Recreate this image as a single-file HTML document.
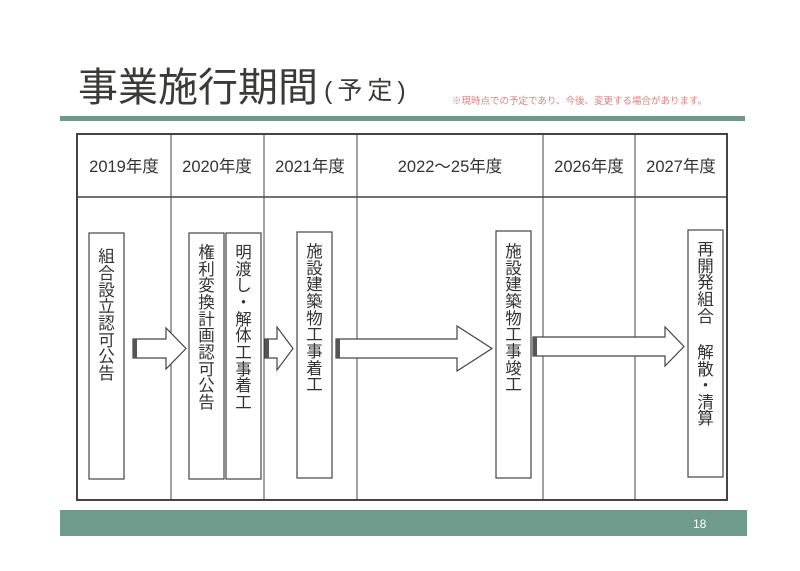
<!DOCTYPE html>
<html><head><meta charset="utf-8"><style>
html,body{margin:0;padding:0;background:#fff}
svg text{font-family:"Liberation Sans","Noto Sans CJK JP",sans-serif;fill:#333}
</style></head><body>
<svg width="800" height="566" viewBox="0 0 800 566" xmlns="http://www.w3.org/2000/svg">
<rect width="800" height="566" fill="#fff"/>
<text x="78" y="101" font-size="40" style="fill:#3a3a36">事業施行期間</text>
<text x="324" y="99" font-size="25" letter-spacing="5" style="fill:#3a3a36">(予定)</text>
<text x="452" y="104" font-size="9.5" style="fill:#e08080">※現時点での予定であり、今後、変更する場合があります。</text>
<rect x="60" y="116" width="685" height="5" fill="#6e9b8b"/>
<g stroke="#444" fill="none">
<rect x="77" y="134" width="650" height="366" stroke-width="2"/>
<line x1="77" y1="197" x2="727" y2="197" stroke-width="1.5"/>
<line x1="171" y1="134" x2="171" y2="500"/>
<line x1="264" y1="134" x2="264" y2="500"/>
<line x1="357" y1="134" x2="357" y2="500"/>
<line x1="543" y1="134" x2="543" y2="500"/>
<line x1="635" y1="134" x2="635" y2="500"/>
</g>
<g font-size="16.5" text-anchor="middle">
<text x="124" y="172">2019年度</text>
<text x="217" y="172">2020年度</text>
<text x="310" y="172">2021年度</text>
<text x="450" y="172">2022～25年度</text>
<text x="589" y="172">2026年度</text>
<text x="681" y="172">2027年度</text>
</g>
<g stroke="#444" fill="#fff" stroke-width="1.2">
<rect x="89" y="233" width="35" height="246"/>
<rect x="189" y="233" width="35" height="246"/>
<rect x="226" y="233" width="35" height="246"/>
<rect x="297" y="232" width="35" height="246"/>
<rect x="496" y="231" width="35" height="247"/>
<rect x="688" y="230" width="35" height="247"/>
<path d="M133 339 H166 V328 L186 348.5 L166 369 V358 H133 Z"/>
<path d="M265 339 H277 V327 L293 348.5 L277 370 V358 H265 Z"/>
<path d="M336 339 H457 V326 L492 348.5 L457 371 V358 H336 Z"/>
<path d="M533 337 H665 V327 L684 346.5 L665 366 V356 H533 Z"/>
</g>
<g fill="#555"><rect x="133" y="339" width="4" height="19"/><rect x="265" y="339" width="4" height="19"/><rect x="336" y="339" width="4" height="19"/><rect x="533" y="337" width="4" height="19"/></g>
<g font-size="16.5" text-anchor="middle">
<text x="106.5" y="262">組</text><text x="106.5" y="279">合</text><text x="106.5" y="296">設</text><text x="106.5" y="312">立</text><text x="106.5" y="329">認</text><text x="106.5" y="346">可</text><text x="106.5" y="362">公</text><text x="106.5" y="379">告</text>
<text x="206.5" y="258">権</text><text x="206.5" y="275">利</text><text x="206.5" y="291">変</text><text x="206.5" y="308">換</text><text x="206.5" y="325">計</text><text x="206.5" y="341">画</text><text x="206.5" y="358">認</text><text x="206.5" y="375">可</text><text x="206.5" y="391">公</text><text x="206.5" y="408">告</text>
<text x="243.5" y="258">明</text><text x="243.5" y="275">渡</text><text x="243.5" y="291">し</text><text x="243.5" y="308">・</text><text x="243.5" y="325">解</text><text x="243.5" y="341">体</text><text x="243.5" y="358">工</text><text x="243.5" y="375">事</text><text x="243.5" y="391">着</text><text x="243.5" y="408">工</text>
<text x="314.5" y="257">施</text><text x="314.5" y="274">設</text><text x="314.5" y="290">建</text><text x="314.5" y="307">築</text><text x="314.5" y="324">物</text><text x="314.5" y="340">工</text><text x="314.5" y="357">事</text><text x="314.5" y="374">着</text><text x="314.5" y="390">工</text>
<text x="513.5" y="257">施</text><text x="513.5" y="274">設</text><text x="513.5" y="290">建</text><text x="513.5" y="307">築</text><text x="513.5" y="324">物</text><text x="513.5" y="340">工</text><text x="513.5" y="357">事</text><text x="513.5" y="374">竣</text><text x="513.5" y="390">工</text>
<text x="705.5" y="255">再</text><text x="705.5" y="272">開</text><text x="705.5" y="288">発</text><text x="705.5" y="305">組</text><text x="705.5" y="322">合</text><text x="705.5" y="358">解</text><text x="705.5" y="375">散</text><text x="705.5" y="391">・</text><text x="705.5" y="408">清</text><text x="705.5" y="424">算</text>
</g>
<rect x="60" y="510" width="687" height="26" fill="#6e9b8b"/>
<text x="693" y="528" font-size="12" style="fill:#fff">18</text>
</svg>
</body></html>
